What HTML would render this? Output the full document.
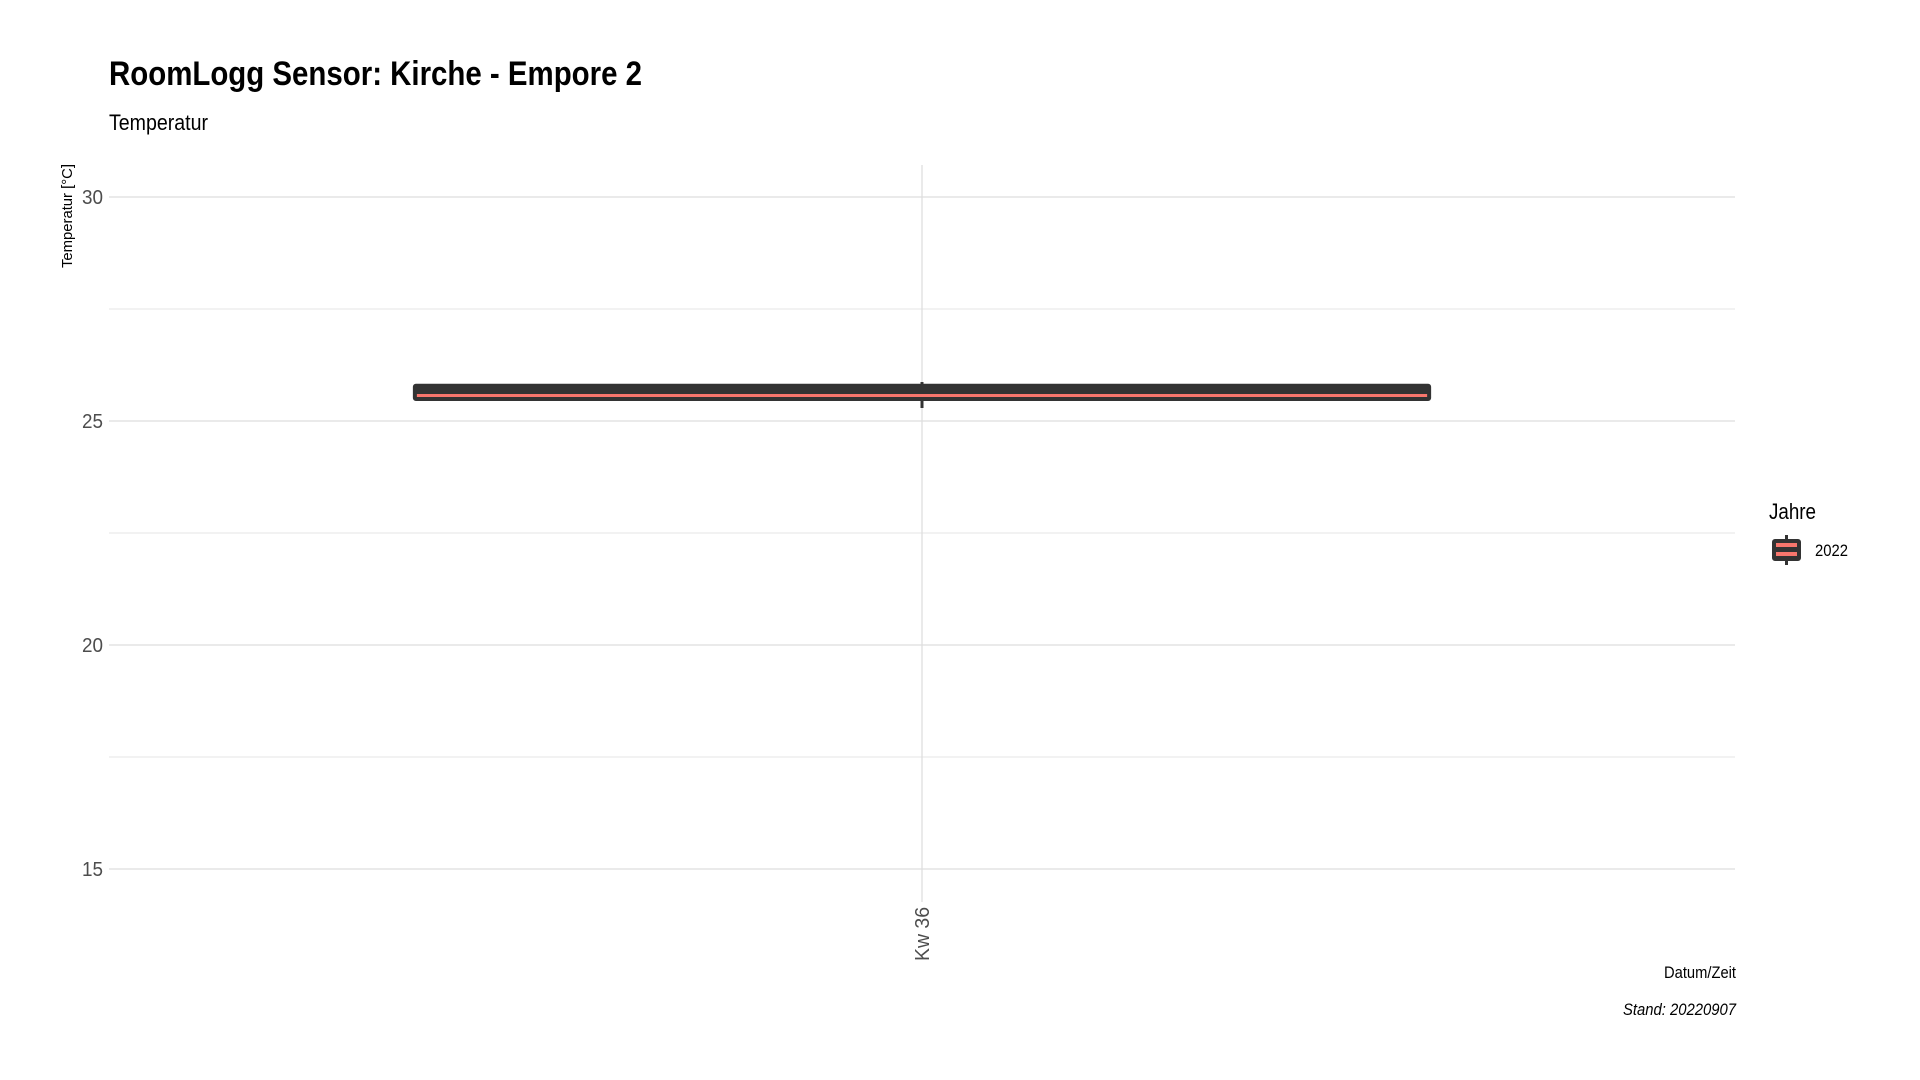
<!DOCTYPE html>
<html><head><meta charset="utf-8"><style>
html,body{margin:0;padding:0;background:#fff;}
svg{display:block;font-family:"Liberation Sans Narrow","Liberation Sans",sans-serif;}
</style></head><body>
<svg id="chart" width="1920" height="1080" viewBox="0 0 1920 1080">
<text x="109" y="85" font-size="34" font-weight="bold" fill="#000" textLength="533" lengthAdjust="spacingAndGlyphs">RoomLogg Sensor: Kirche - Empore 2</text>
<text x="109" y="130" font-size="22" fill="#000" textLength="99" lengthAdjust="spacingAndGlyphs">Temperatur</text>
<text transform="translate(72,216) rotate(-90)" text-anchor="middle" font-size="15" fill="#000" textLength="104" lengthAdjust="spacingAndGlyphs">Temperatur [°C]</text>
<g id="grid"></g>
<g id="ticks"></g>
<g id="marks"></g>
<g id="xlabels"></g>
<text x="1736" y="978" text-anchor="end" font-size="17" fill="#000" textLength="72" lengthAdjust="spacingAndGlyphs">Datum/Zeit</text>
<text x="1736" y="1015" text-anchor="end" font-size="17" font-style="italic" fill="#000" textLength="113" lengthAdjust="spacingAndGlyphs">Stand: 20220907</text>
<g>
<text x="1769" y="519" font-size="22" fill="#000" textLength="47" lengthAdjust="spacingAndGlyphs">Jahre</text>
<g>
<line x1="1786.5" y1="535" x2="1786.5" y2="565" stroke="#333" stroke-width="3"/>
<rect x="1773" y="540" width="27" height="20" rx="2" fill="#333" stroke="#333" stroke-width="2"/>
<rect x="1776" y="543" width="21" height="4" fill="#F8766D"/>
<rect x="1776" y="552" width="21" height="4" fill="#F8766D"/>
<text x="1815" y="556" font-size="17" fill="#000" textLength="33" lengthAdjust="spacingAndGlyphs">2022</text>
</g>
</g>
</svg>
<script>
const categories = ["Kw 36"];
const lowerWhisker = [25.29];
const q1 = [25.47];
const median = [25.57];
const q3 = [25.81];
const upperWhisker = [25.87];
const yTicks = [15, 20, 25, 30];
const yMinor = [17.5, 22.5, 27.5];

const NS = "http://www.w3.org/2000/svg";
const plotL = 109, plotR = 1735, plotTop = 165, plotBot = 902;
function y(v){ return 421 - (v - 25) * 44.8; }
function x(i){ const bw = (plotR - plotL) / categories.length; return plotL + bw * (i + 0.5); }
function mk(tag, attrs, parent){ const e = document.createElementNS(NS, tag); for (const k in attrs) e.setAttribute(k, attrs[k]); parent.appendChild(e); return e; }

const grid = document.getElementById('grid');
yMinor.forEach(v => {
  const l = mk('line', {x1: plotL, x2: plotR, y1: y(v), y2: y(v), stroke: '#e5e5e5', 'stroke-width': 1}, grid);
  
  
});
yTicks.forEach(v => {
  const l = mk('line', {x1: plotL, x2: plotR, y1: y(v), y2: y(v), stroke: '#dedede', 'stroke-width': 1.3}, grid);
  
  
});
categories.forEach((c, i) => {
  const l = mk('line', {x1: x(i), x2: x(i), y1: plotTop, y2: plotBot, stroke: '#dedede', 'stroke-width': 1.3}, grid);
  
  
});

const ticks = document.getElementById('ticks');
yTicks.forEach(v => {
  const t = mk('text', {x: 103, y: y(v) + 7, 'text-anchor': 'end', 'font-size': 20, fill: '#4d4d4d', textLength: 21, lengthAdjust: 'spacingAndGlyphs'}, ticks);
  t.textContent = v;
  
  
});

const xl = document.getElementById('xlabels');
categories.forEach((c, i) => {
  const t = mk('text', {transform: `translate(${x(i) + 7},${907}) rotate(-90)`, 'text-anchor': 'end', 'font-size': 20, fill: '#4d4d4d', textLength: 54, lengthAdjust: 'spacingAndGlyphs'}, xl);
  t.textContent = c;
  
  
});

const marks = document.getElementById('marks');
categories.forEach((c, i) => {
  const bw = (plotR - plotL) / categories.length * 0.625;
  const cx = x(i);
  const g = mk('g', {}, marks);
  
  
  const w = mk('line', {x1: cx, x2: cx, y1: y(upperWhisker[i]), y2: y(lowerWhisker[i]), stroke: '#333', 'stroke-width': 3}, g);
  
  
  const r = mk('rect', {x: cx - bw / 2, y: y(q3[i]), width: bw, height: y(q1[i]) - y(q3[i]), rx: 2, fill: '#333', stroke: '#333', 'stroke-width': 2}, g);
  
  
  const m = mk('line', {x1: cx - bw / 2 + 3, x2: cx + bw / 2 - 3, y1: y(median[i]), y2: y(median[i]), stroke: '#F8766D', 'stroke-width': 3}, g);
  
  
});
</script>
</body></html>
